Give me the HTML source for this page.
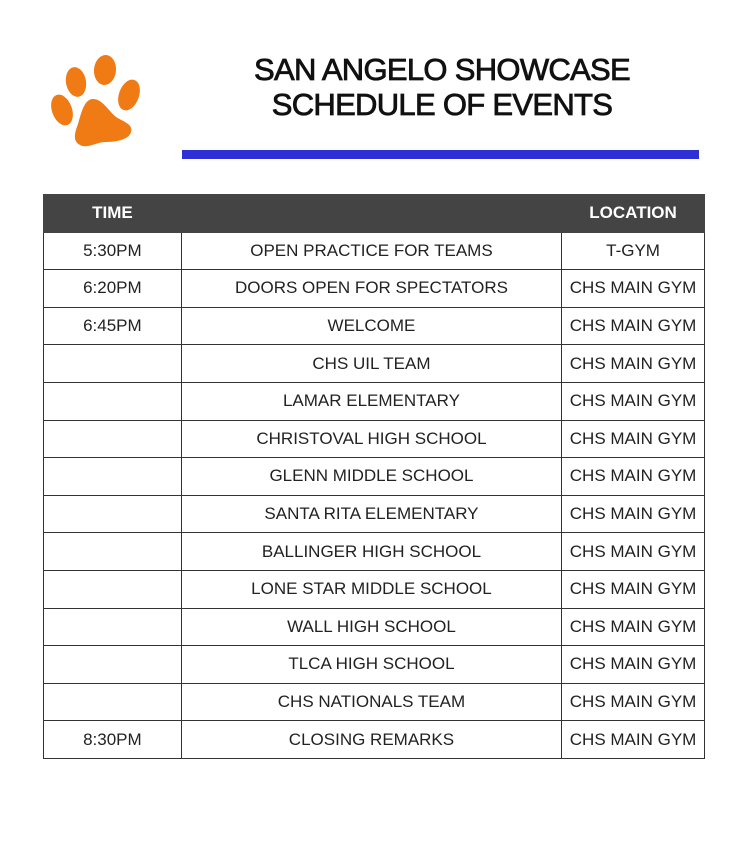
<!DOCTYPE html>
<html><head><style>
body{margin:0;width:750px;height:844px;background:#fff;font-family:"Liberation Sans",sans-serif;position:relative;overflow:hidden}
.t{position:absolute;left:182px;width:520px;text-align:center;font-size:31px;color:#111;letter-spacing:-0.7px;-webkit-text-stroke:0.8px #111}
.bar{position:absolute;left:182px;top:150px;width:517px;height:9px;background:#2f2fd6}
table{position:absolute;left:43px;top:194px;border-collapse:collapse;width:662px}
td,th{border:1px solid #333;font-size:17px;color:#222;text-align:center;height:36.6px;padding:0}
th{background:#444;color:#fff;font-weight:bold;border-color:#444}
</style></head><body>
<svg style="position:absolute;left:0;top:0" width="160" height="160" viewBox="0 0 160 160">
<g fill="#f07a14">
<ellipse cx="62" cy="110" rx="10" ry="16" transform="rotate(-20 62 110)"/>
<ellipse cx="76" cy="82" rx="10" ry="15" transform="rotate(-10 76 82)"/>
<ellipse cx="105" cy="70" rx="11" ry="15" transform="rotate(5 105 70)"/>
<ellipse cx="129" cy="95" rx="10" ry="16" transform="rotate(20 129 95)"/>
<path d="M93 99 C102 99 108 110 116 117 C124 122 133 124 131 132 C129 140 115 142 106 142 C96 142 88 149 80 145 C72 141 75 132 78 124 C81 114 84 99 93 99Z"/>
</g></svg>
<div class="t" style="top:52px">SAN ANGELO SHOWCASE</div>
<div class="t" style="top:87px">SCHEDULE OF EVENTS</div>
<div class="bar"></div>
<table>
<colgroup><col style="width:138px"><col style="width:381px"><col style="width:143px"></colgroup>
<tr><th>TIME</th><th style="border-left-color:#555"></th><th>LOCATION</th></tr>
<tr><td>5:30PM</td><td>OPEN PRACTICE FOR TEAMS</td><td>T-GYM</td></tr>
<tr><td>6:20PM</td><td>DOORS OPEN FOR SPECTATORS</td><td>CHS MAIN GYM</td></tr>
<tr><td>6:45PM</td><td>WELCOME</td><td>CHS MAIN GYM</td></tr>
<tr><td></td><td>CHS UIL TEAM</td><td>CHS MAIN GYM</td></tr>
<tr><td></td><td>LAMAR ELEMENTARY</td><td>CHS MAIN GYM</td></tr>
<tr><td></td><td>CHRISTOVAL HIGH SCHOOL</td><td>CHS MAIN GYM</td></tr>
<tr><td></td><td>GLENN MIDDLE SCHOOL</td><td>CHS MAIN GYM</td></tr>
<tr><td></td><td>SANTA RITA ELEMENTARY</td><td>CHS MAIN GYM</td></tr>
<tr><td></td><td>BALLINGER HIGH SCHOOL</td><td>CHS MAIN GYM</td></tr>
<tr><td></td><td>LONE STAR MIDDLE SCHOOL</td><td>CHS MAIN GYM</td></tr>
<tr><td></td><td>WALL HIGH SCHOOL</td><td>CHS MAIN GYM</td></tr>
<tr><td></td><td>TLCA HIGH SCHOOL</td><td>CHS MAIN GYM</td></tr>
<tr><td></td><td>CHS NATIONALS TEAM</td><td>CHS MAIN GYM</td></tr>
<tr><td>8:30PM</td><td>CLOSING REMARKS</td><td>CHS MAIN GYM</td></tr>
</table>
</body></html>
